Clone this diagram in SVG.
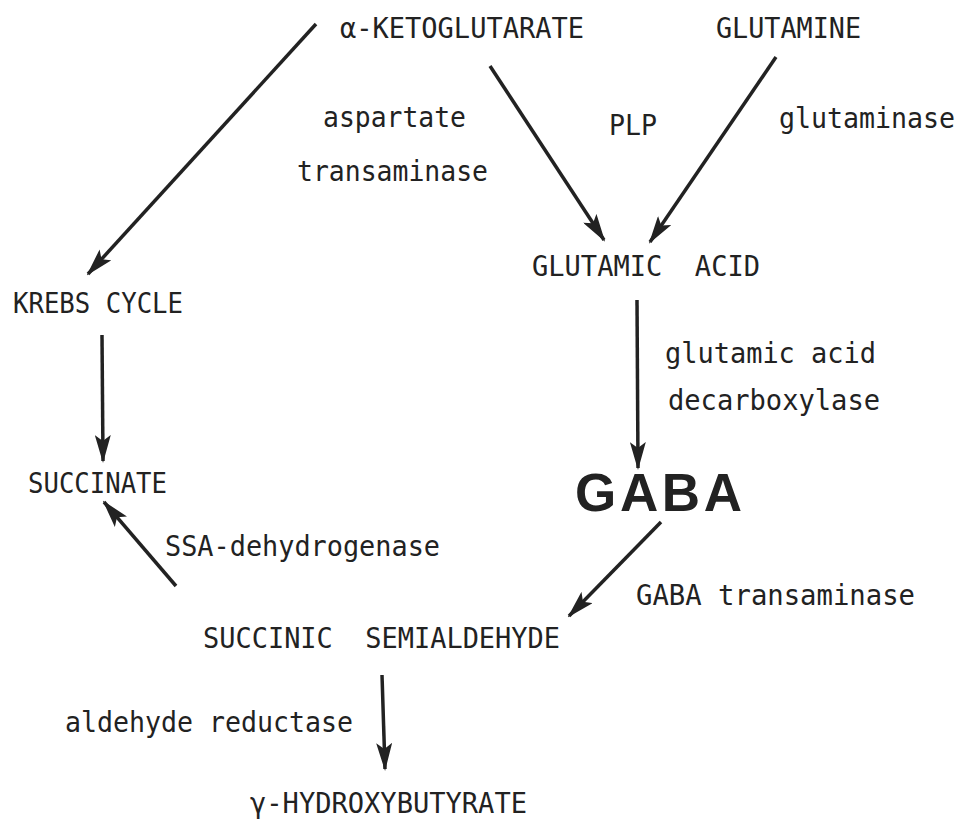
<svg xmlns="http://www.w3.org/2000/svg" width="963" height="822" viewBox="0 0 963 822">
<style>
.t{font-family:"DejaVu Sans Mono","Liberation Mono",monospace;font-size:28px;fill:#222;white-space:pre}
.big{font-family:"Liberation Sans",Arial,sans-serif;font-size:53px;font-weight:bold;fill:#222}
.c{stroke:#222;stroke-width:3.5;fill:none;marker-end:url(#ah)}
</style>
<defs>
<marker id="ah" viewBox="0 0 28 16" refX="26" refY="8" markerWidth="28" markerHeight="16" markerUnits="userSpaceOnUse" orient="auto">
<path d="M0,0 L28,8 L0,16 L6,8 Z" fill="#222"/>
</marker>
</defs>
<rect width="963" height="822" fill="#fff"/>
<g id="connectors">
<line class="c" x1="316" y1="24" x2="88" y2="274"/>
<line class="c" x1="490" y1="66" x2="604" y2="240"/>
<line class="c" x1="776" y1="57" x2="650" y2="242"/>
<line class="c" x1="102" y1="335" x2="103" y2="461"/>
<line class="c" x1="637" y1="300" x2="638" y2="468"/>
<line class="c" x1="176" y1="586" x2="104" y2="502"/>
<line class="c" x1="661" y1="522" x2="569" y2="616"/>
<line class="c" x1="382" y1="675" x2="385" y2="769"/>
</g>
<g id="akg"><text class="t" x="340" y="38" textLength="244" lengthAdjust="spacingAndGlyphs">α-KETOGLUTARATE</text></g>
<g id="glutamine"><text class="t" x="716" y="38" textLength="145" lengthAdjust="spacingAndGlyphs">GLUTAMINE</text></g>
<g id="lbl-aspartate"><text class="t" x="323" y="127" textLength="143" lengthAdjust="spacingAndGlyphs">aspartate</text><text class="t" x="297" y="181" textLength="191" lengthAdjust="spacingAndGlyphs">transaminase</text></g>
<g id="lbl-plp"><text class="t" x="609" y="135" textLength="48" lengthAdjust="spacingAndGlyphs">PLP</text></g>
<g id="lbl-glutaminase"><text class="t" x="779" y="128" textLength="176" lengthAdjust="spacingAndGlyphs">glutaminase</text></g>
<g id="glutamic"><text class="t" x="532" y="276" textLength="228" lengthAdjust="spacingAndGlyphs">GLUTAMIC  ACID</text></g>
<g id="krebs"><text class="t" x="13" y="313" textLength="170" lengthAdjust="spacingAndGlyphs">KREBS CYCLE</text></g>
<g id="lbl-gad"><text class="t" x="665" y="363" textLength="211" lengthAdjust="spacingAndGlyphs">glutamic acid</text><text class="t" x="668" y="410" textLength="212" lengthAdjust="spacingAndGlyphs">decarboxylase</text></g>
<g id="succinate"><text class="t" x="28" y="493" textLength="139" lengthAdjust="spacingAndGlyphs">SUCCINATE</text></g>
<g id="gaba"><text class="big" x="575" y="511" textLength="167" lengthAdjust="spacing">GABA</text></g>
<g id="lbl-ssadh"><text class="t" x="165" y="556" textLength="275" lengthAdjust="spacingAndGlyphs">SSA-dehydrogenase</text></g>
<g id="lbl-gabat"><text class="t" x="636" y="605" textLength="279" lengthAdjust="spacingAndGlyphs">GABA transaminase</text></g>
<g id="ssa"><text class="t" x="203" y="648" textLength="357" lengthAdjust="spacingAndGlyphs">SUCCINIC  SEMIALDEHYDE</text></g>
<g id="lbl-ar"><text class="t" x="65" y="732" textLength="288" lengthAdjust="spacingAndGlyphs">aldehyde reductase</text></g>
<g id="ghb"><text class="t" x="250" y="813" textLength="277" lengthAdjust="spacingAndGlyphs">γ-HYDROXYBUTYRATE</text></g>
</svg>
